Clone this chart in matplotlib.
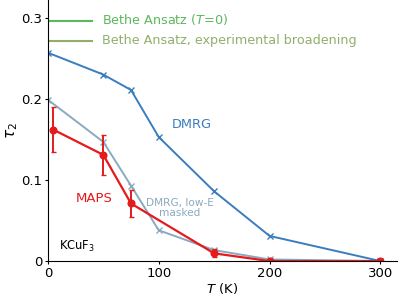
import matplotlib
matplotlib.use("Agg")
import matplotlib.pyplot as plt
from matplotlib.ticker import FuncFormatter

# Data
T_dmrg = [0, 50, 75, 100, 150, 200, 300]
tau_dmrg = [0.257, 0.230, 0.211, 0.153, 0.086, 0.031, 0.0]

T_mask = [0, 50, 75, 100, 150, 200, 300]
tau_mask = [0.199, 0.147, 0.093, 0.038, 0.0135, 0.002, 0.0]

T_maps = [5, 50, 75, 150, 200, 300]
tau_maps = [0.162, 0.131, 0.071, 0.0095, 0.0, 0.0]
err_maps = [0.028, 0.025, 0.017, 0.005, 0.0, 0.0]

ba_T0 = 0.296
ba_broad = 0.271
ba_T = [0, 40]

c_blue = "#3a7dbf"
c_gray = "#8aaabf"
c_red = "#e41a1c"
c_green = "#5cb85c"
c_olive = "#8fb06c"

fig = plt.figure(figsize=(3.99, 2.97), dpi=100)
ax = fig.add_axes([0.120, 0.121, 0.875, 0.879])

ax.plot(ba_T, [ba_T0, ba_T0], color=c_green, lw=1.5)
ax.plot(ba_T, [ba_broad, ba_broad], color=c_olive, lw=1.5)
ax.text(49, ba_T0 + 0.0025, r"Bethe Ansatz ($T\!=\!0$)", color=c_green, fontsize=9.2, va="center", ha="left")
ax.text(49, ba_broad + 0.0015, "Bethe Ansatz, experimental broadening", color=c_olive, fontsize=9.2, va="center", ha="left")

ax.plot(T_dmrg, tau_dmrg, color=c_blue, marker="x", ms=4, mew=1, lw=1.4)
ax.plot(T_mask, tau_mask, color=c_gray, marker="x", ms=4, mew=1, lw=1.4)
ax.errorbar(T_maps, tau_maps, yerr=err_maps, color=c_red, marker="o", ms=4.8, lw=1.6,
            elinewidth=1.4, capsize=1.8, capthick=1)

ax.text(112, 0.168, "DMRG", color=c_blue, fontsize=9.3, va="center", ha="left")
ax.text(25, 0.077, "MAPS", color=c_red, fontsize=9.5, va="center", ha="left")
ax.text(119, 0.065, "DMRG, low-E\nmasked", color=c_gray, fontsize=7.6, va="center", ha="center", linespacing=1.0)
ax.text(10, 0.018, r"KCuF$_3$", color="black", fontsize=8.3, va="center", ha="left")

ax.set_xlim(0, 315)
ax.set_ylim(0, 0.322)
ax.set_xticks([0, 100, 200, 300])
ax.set_yticks([0, 0.1, 0.2, 0.3])
ax.yaxis.set_major_formatter(FuncFormatter(lambda v, p: "0" if abs(v) < 1e-9 else f"{v:.1f}"))
ax.tick_params(direction="out", length=2.5, width=0.8, labelsize=9.5, pad=1.5)
for s in ["top", "right"]:
    ax.spines[s].set_visible(False)
ax.set_xlabel(r"$T$ (K)", fontsize=9.5, labelpad=1)
ax.set_ylabel(r"$\tau_2$", fontsize=11, labelpad=1)

fig.savefig("out.png", dpi=100)
